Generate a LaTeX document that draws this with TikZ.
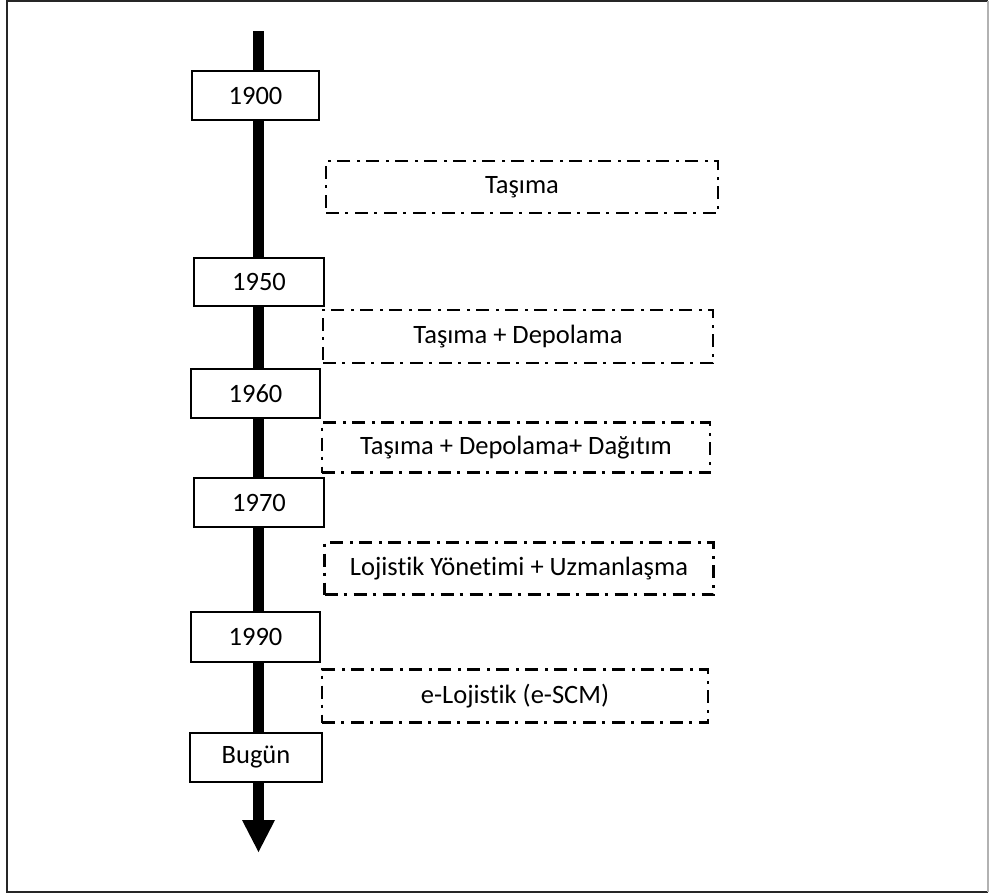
\documentclass[tikz,border=0pt]{standalone}
\usepackage{fontspec}
\setmainfont[Ligatures={NoCommon}]{Carlito}
\begin{document}
\begin{tikzpicture}[x=1pt,y=-1pt,
  yearbox/.style={draw=black, line width=2.6pt, fill=white, inner sep=0pt,
    font=\fontsize{26.5}{30}\selectfont},
  phasebox/.style={draw=black, line width=2.8pt, fill=white, inner sep=0pt,
    dash pattern=on 13pt off 6pt on 3pt off 7pt,
    font=\fontsize{26.5}{30}\selectfont},
  spine/.style={line width=11pt, black}
]
% page frame
\useasboundingbox (0,0) rectangle (989,894);
\draw[line width=2pt, black!85] (988,892) -- (7,892) -- (7,1) -- (988,1);
\draw[line width=2pt, black!30] (988,1) -- (988,892);

% time axis
\coordinate (top) at (258.5,31);
\coordinate (neck) at (258.5,821);
\coordinate (tip) at (258.5,852);
\draw[spine] (top) -- (neck);
\fill[black] (242,820) -- (275,820) -- (tip) -- cycle;

% year markers
\node[yearbox, minimum width=127pt, minimum height=49pt] (y1900) at (255.5,95.5) {1900};
\node[yearbox, minimum width=130pt, minimum height=48pt] (y1950) at (259,282) {1950};
\node[yearbox, minimum width=129pt, minimum height=49pt] (y1960) at (255.5,393.5) {1960};
\node[yearbox, minimum width=130pt, minimum height=49pt] (y1970) at (259,502.5) {1970};
\node[yearbox, minimum width=129pt, minimum height=50pt] (y1990) at (255.5,637) {1990};
\node[yearbox, minimum width=132pt, minimum height=49pt] (ynow) at (256,757.5) {Bugün};

% phases between the years
\node[phasebox, minimum width=392pt, minimum height=52pt] (p1) at (522,187) {Taşıma};
\node[phasebox, minimum width=390pt, minimum height=53pt] (p2) at (518,336.5) {Taşıma + Depolama};
\node[phasebox, minimum width=388pt, minimum height=50pt] (p3) at (516,447.5) {Taşıma + Depolama+ Dağıtım};
\node[phasebox, minimum width=389pt, minimum height=52pt] (p4) at (519,568.5) {Lojistik Yönetimi + Uzmanlaşma};
\node[phasebox, minimum width=386pt, minimum height=53pt] (p5) at (515,696) {e-Lojistik (e-SCM)};
\end{tikzpicture}
\end{document}
